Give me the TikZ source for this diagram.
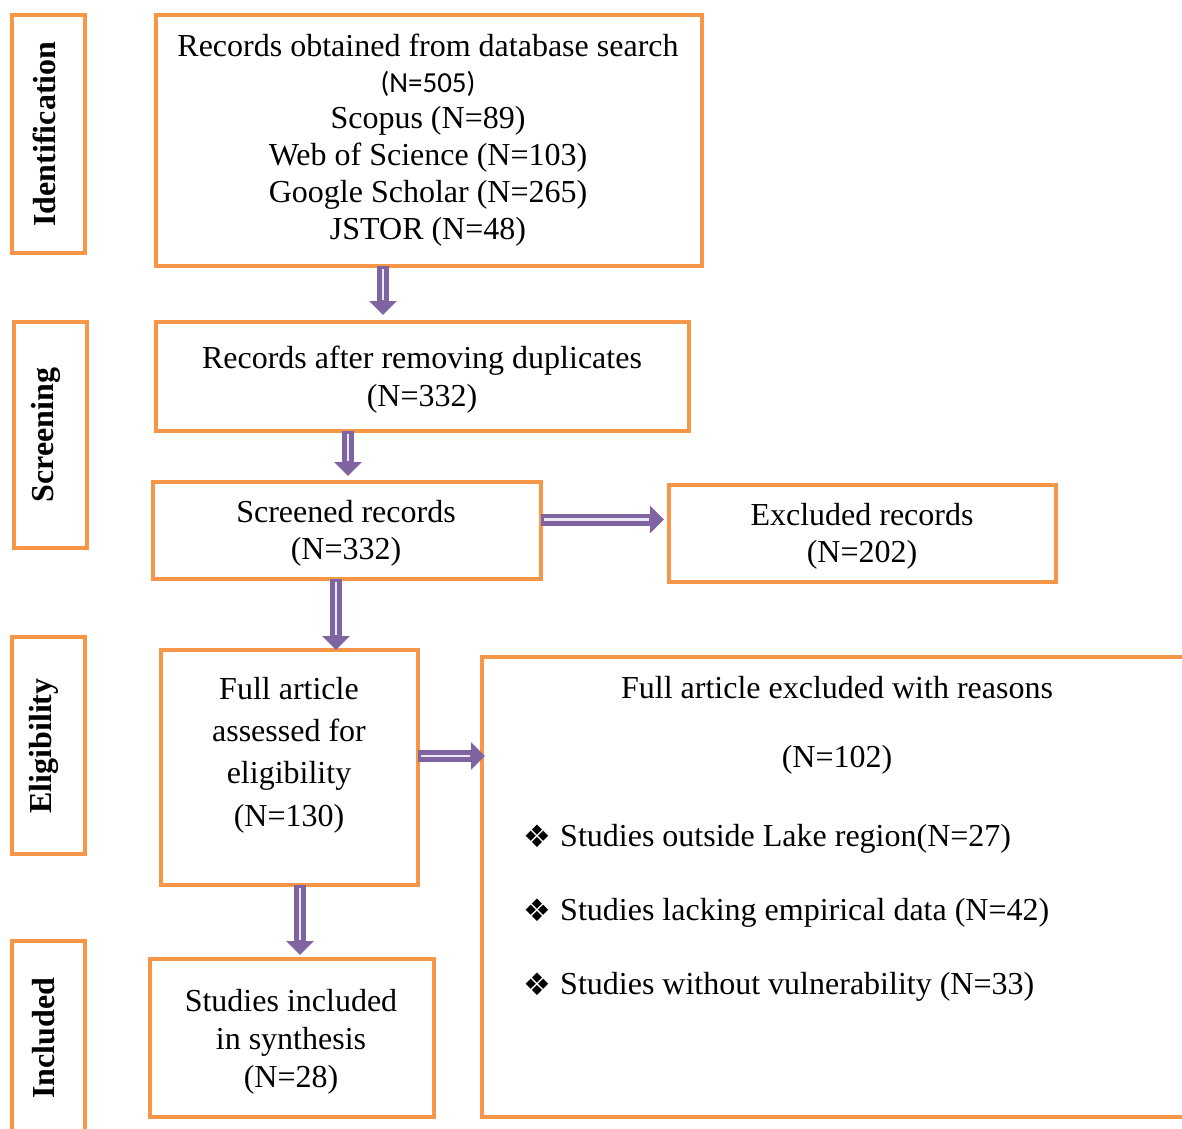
\documentclass[tikz,border=0pt]{standalone}
\usepackage{fontspec}
\setmainfont{Liberation Serif}
\newfontfamily\calib{Carlito}
\newfontfamily\dejavu{DejaVu Sans}
\usetikzlibrary{arrows.meta,calc}
\definecolor{orng}{HTML}{F79646}
\definecolor{purp}{HTML}{8064A2}
\begin{document}
\begin{tikzpicture}[x=1pt,y=-1pt,
  box/.style={draw=orng, line width=4pt, inner sep=0pt, outer sep=0pt},
  t/.style={font=\fontsize{32}{37}\selectfont, inner sep=0pt, anchor=base},
  side/.style={font=\bfseries\fontsize{32}{37}\selectfont, inner sep=0pt, rotate=90},
  bul/.style={inner sep=0pt, anchor=base, font=\dejavu\fontsize{31}{34}\selectfont},
  arr/.style={draw=purp, line width=12pt, -{Triangle[length=14pt,width=27pt]}, shorten >=#1,
    postaction={draw=white!85!purp, line width=2.5pt, -, shorten >=#1+15pt, shorten <=3pt}},
  arr/.default=0pt]
\useasboundingbox (0,0) rectangle (1182,1128);
\fill[white] (0,0) rectangle (1182,1128);
\begin{scope}
\clip (0,0) rectangle (1182,1128);
% side boxes
\node[box, minimum width=73pt, minimum height=238pt] (sid) at (48.5,134) {};
\node[box, minimum width=73pt, minimum height=226pt] (sscr) at (50.5,435) {};
\node[box, minimum width=73pt, minimum height=217pt] (selig) at (48.5,745.5) {};
\node[box, minimum width=73pt, minimum height=220pt] (sincl) at (48.5,1051) {};
% main boxes
\node[box, minimum width=546pt, minimum height=251pt] (b1) at (429,140.5) {};
\node[box, minimum width=533pt, minimum height=109pt] (b2) at (422.5,376.5) {};
\node[box, minimum width=388pt, minimum height=97pt] (b3) at (347,530.5) {};
\node[box, minimum width=387pt, minimum height=97pt] (ex) at (862.5,533.5) {};
\node[box, minimum width=257pt, minimum height=235pt] (fa) at (289.5,767.5) {};
\node[box, minimum width=718pt, minimum height=460pt] (fx) at (841,887) {};
\node[box, minimum width=284pt, minimum height=158pt] (inc) at (292,1038) {};
\end{scope}
% side labels
\node[side] (lid) at (44,134) {Identification};
\node[side] (lscr) at (46,435) {Screening};
\node[side] (lelig) at (44,746) {Eligibility};
\node[side] (lincl) at (44,1038) {Included};
% box 1
\node[t] (t11) at (428,56) {Records obtained from database search};
\node[t, font=\calib\fontsize{29}{35}\selectfont] (t12) at (428,92) {(N=505)};
\node[t] (t13) at (428,128) {Scopus (N=89)};
\node[t] (t14) at (428,165) {Web of Science (N=103)};
\node[t] (t15) at (428,202) {Google Scholar (N=265)};
\node[t] (t16) at (428,239) {JSTOR (N=48)};
% box 2
\node[t] (t21) at (422,368) {Records after removing duplicates};
\node[t] (t22) at (422,406) {(N=332)};
% box 3
\node[t] (t31) at (346,522) {Screened records};
\node[t] (t32) at (346,559) {(N=332)};
% excluded
\node[t] (te1) at (862,525) {Excluded records};
\node[t] (te2) at (862,562) {(N=202)};
% full article
\node[t] (tf1) at (289,699) {Full article};
\node[t] (tf2) at (289,741) {assessed for};
\node[t] (tf3) at (289,783) {eligibility};
\node[t] (tf4) at (289,826) {(N=130)};
% full excluded
\node[t] (tx1) at (837,698) {Full article excluded with reasons};
\node[t] (tx2) at (837,767) {(N=102)};
\node[t, anchor=base west] (tx3) at (560,846) {Studies outside Lake region(N=27)};
\node[t, anchor=base west] (tx4) at (560,920) {Studies lacking empirical data (N=42)};
\node[t, anchor=base west] (tx5) at (560,994) {Studies without vulnerability (N=33)};
\node[bul] (bu3) at (537,847) {❖};
\node[bul] (bu4) at (537,921) {❖};
\node[bul] (bu5) at (537,995) {❖};
% included
\node[t] (ti1) at (291,1011) {Studies included};
\node[t] (ti2) at (291,1049) {in synthesis};
\node[t] (ti3) at (291,1087) {(N=28)};
% arrows
\coordinate (a1) at (383,0);
\coordinate (a2) at (348,0);
\coordinate (a3) at (336,0);
\coordinate (a4) at (300,0);
\coordinate (h1) at (0,519.5);
\coordinate (h2) at (0,756);
\draw[arr=7pt] (b1.south -| a1) -- (b2.north -| a1);
\draw[arr=6pt] (b2.south -| a2) -- (b3.north -| a2);
\draw[arr=0pt] (b3.south -| a3) -- (fa.north -| a3);
\draw[arr=4pt] (fa.south -| a4) -- (inc.north -| a4);
\draw[arr=5pt] (b3.east |- h1) -- (ex.west |- h1);
\draw[arr=-3pt] (fa.east |- h2) -- (fx.west |- h2);
\end{tikzpicture}
\end{document}
